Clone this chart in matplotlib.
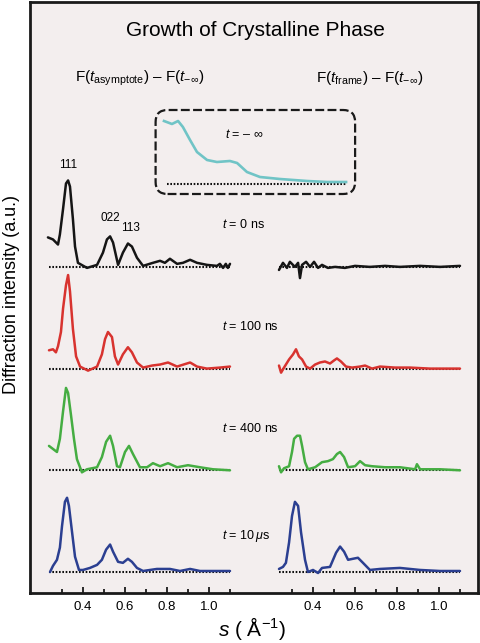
import matplotlib
matplotlib.use('Agg')
import matplotlib.pyplot as plt
from matplotlib.patches import FancyBboxPatch
import numpy as np

plt.rcParams['font.family'] = ['Liberation Sans', 'DejaVu Sans']
plt.rcParams['mathtext.fontset'] = 'custom'
plt.rcParams['mathtext.rm'] = 'Liberation Sans'
plt.rcParams['mathtext.it'] = 'Liberation Sans:italic'
plt.rcParams['mathtext.bf'] = 'Liberation Sans:bold'

# ---- data: s (1/A) and intensity (a.u.) ----
# left column: F(t_asymptote) - F(t_-inf)
s_L0 = [0.233, 0.257, 0.281, 0.290, 0.305, 0.319, 0.329, 0.338, 0.352, 0.362, 0.376, 0.419,
        0.467, 0.495, 0.514, 0.529, 0.543, 0.567, 0.590, 0.614, 0.633, 0.657, 0.686, 0.733,
        0.767, 0.790, 0.814, 0.848, 0.876, 0.910, 0.943, 0.990, 1.038, 1.052, 1.067, 1.080, 1.090, 1.100]
i_L0 = [29, 27, 22, 32, 57, 82, 85, 79, 47, 20, 4, -1,
        2, 14, 27, 30, 24, 2, 14, 23, 20, 9, 1, 4,
        6, 4, 8, 3, 4, 7, 4, 2, 1, 3, -1, 3, -1, 3]

s_L1 = [0.238, 0.257, 0.271, 0.281, 0.295, 0.305, 0.319, 0.329, 0.338, 0.352, 0.367, 0.386,
        0.424, 0.467, 0.490, 0.505, 0.519, 0.538, 0.552, 0.567, 0.590, 0.614, 0.633, 0.657,
        0.686, 0.729, 0.767, 0.805, 0.848, 0.910, 0.943, 0.990, 1.052, 1.100]
i_L1 = [18, 19, 16, 22, 36, 59, 82, 92, 76, 39, 12, 2,
        -2, 2, 14, 29, 36, 31, 12, 4, 14, 21, 16, 6,
        1, 3, 4, 6, 2, 6, 2, 0, 1, 2]

s_L2 = [0.238, 0.257, 0.276, 0.290, 0.305, 0.319, 0.329, 0.343, 0.357, 0.371, 0.395, 0.419,
        0.467, 0.490, 0.510, 0.529, 0.543, 0.562, 0.576, 0.600, 0.619, 0.638, 0.671, 0.705,
        0.733, 0.767, 0.805, 0.848, 0.900, 0.957, 1.019, 1.100]
i_L2 = [24, 21, 18, 31, 58, 81, 76, 54, 31, 11, -2, 1,
        3, 13, 28, 34, 24, 4, 3, 18, 24, 16, 3, 3,
        7, 4, 7, 3, 5, 3, 1, 0]

s_L3 = [0.243, 0.257, 0.276, 0.290, 0.300, 0.314, 0.324, 0.333, 0.348, 0.362, 0.381, 0.400,
        0.433, 0.467, 0.490, 0.510, 0.529, 0.543, 0.567, 0.590, 0.614, 0.633, 0.657, 0.686,
        0.752, 0.814, 0.862, 0.910, 0.957, 1.038, 1.100]
i_L3 = [0, 6, 12, 24, 45, 69, 73, 65, 39, 15, 2, 2,
        4, 7, 12, 22, 27, 20, 10, 9, 13, 10, 4, 1,
        3, 3, 1, 3, 1, 1, 1]

# right column: F(t_frame) - F(t_-inf)
s_R0 = [0.238, 0.257, 0.276, 0.290, 0.314, 0.329, 0.338, 0.348, 0.367, 0.386, 0.405, 0.424,
        0.443, 0.471, 0.505, 0.552, 0.600, 0.671, 0.743, 0.814, 0.910, 1.005, 1.100]
i_R0 = [-3, 4, -1, 5, 0, 4, -11, 2, 5, 0, 5, -1,
        2, -1, 0, -1, 1, 0, 1, 0, 1, 0, 1]

s_R1 = [0.238, 0.248, 0.262, 0.286, 0.305, 0.319, 0.333, 0.348, 0.367, 0.386, 0.410, 0.433,
        0.457, 0.481, 0.500, 0.514, 0.533, 0.557, 0.586, 0.624, 0.648, 0.681, 0.719, 0.790,
        0.862, 0.957, 1.100]
i_R1 = [3, -4, 1, 9, 14, 19, 12, 9, 2, 0, 4, 6,
        7, 5, 8, 10, 7, 2, 1, 2, 3, 0, 2, 1,
        1, 0, 0]

s_R2 = [0.238, 0.248, 0.262, 0.286, 0.300, 0.310, 0.324, 0.338, 0.348, 0.362, 0.376, 0.410,
        0.443, 0.471, 0.495, 0.514, 0.529, 0.548, 0.567, 0.600, 0.624, 0.648, 0.681, 0.743,
        0.814, 0.886, 0.895, 0.910, 1.005, 1.100]
i_R2 = [4, -2, 2, 4, 18, 31, 34, 34, 24, 8, 1, 3,
        8, 9, 11, 16, 18, 13, 3, 4, 9, 5, 4, 3,
        3, 1, 6, 1, 1, 0]

s_R3 = [0.238, 0.257, 0.271, 0.286, 0.300, 0.314, 0.329, 0.343, 0.362, 0.376, 0.400, 0.424,
        0.443, 0.481, 0.510, 0.529, 0.548, 0.567, 0.590, 0.614, 0.638, 0.671, 0.719, 0.814,
        0.910, 1.005, 1.100]
i_R3 = [3, 5, 9, 29, 55, 69, 65, 39, 12, 0, 2, -1,
        4, 5, 19, 25, 20, 12, 13, 14, 9, 2, 3, 4,
        2, 1, 1]

# inset: t = -inf
s_inf = [0.240, 0.278, 0.307, 0.330, 0.364, 0.397, 0.445, 0.492, 0.554, 0.588, 0.635, 0.697,
         0.792, 0.921, 1.016, 1.107]
i_inf = [63, 60, 63, 57, 44, 32, 24, 22, 23, 21, 12, 7,
         5, 3, 2, 2]

offsets = [300, 200, 100, 0]
colors = ['#151515', '#d8332f', '#45ad42', '#2b3f91']
time_labels = [r'$t$ = 0 ns', r'$t$ = 100 ns', r'$t$ = 400 ns', r'$t$ = 10$\,\mu$s']
left_curves = [(s_L0, i_L0), (s_L1, i_L1), (s_L2, i_L2), (s_L3, i_L3)]
right_curves = [(s_R0, i_R0), (s_R1, i_R1), (s_R2, i_R2), (s_R3, i_R3)]

W, H = 480, 643
def fx(x):
    return x / W
def fy(y):
    return 1 - y / H

bg = '#f3eeee'
fig = plt.figure(figsize=(4.8, 6.43), dpi=100)

# frame
ax_bg = fig.add_axes([fx(30), fy(593), fx(478) - fx(30), fy(2) - fy(593)])
ax_bg.set_facecolor(bg)
ax_bg.set_xticks([])
ax_bg.set_yticks([])
for sp in ax_bg.spines.values():
    sp.set_linewidth(2.0)
    sp.set_color('#1a1a1a')

ylo, yhi = -21 / 1.017, 570 / 1.017
dot = (0, (0.8, 0.8))

def setup_panel(ax):
    ax.set_xlim(0.2, 1.15)
    ax.set_ylim(ylo, yhi)
    ax.patch.set_alpha(0)
    for sp in ax.spines.values():
        sp.set_visible(False)
    ax.set_yticks([])
    ax.set_xticks([0.4, 0.6, 0.8, 1.0])
    ax.set_xticks([0.3, 0.5, 0.7, 0.9, 1.1], minor=True)
    ax.tick_params(axis='x', which='major', direction='in', length=4.5, width=1.3,
                   labelsize=9.5, pad=6, color='#1a1a1a')
    ax.tick_params(axis='x', which='minor', direction='in', length=3, width=1.3, color='#1a1a1a')

pw = fx(240.5) - fx(41)
axL = fig.add_axes([fx(41), fy(593), pw, fy(2) - fy(593)])
axR = fig.add_axes([fx(271), fy(593), pw, fy(2) - fy(593)])
for ax, curves in [(axL, left_curves), (axR, right_curves)]:
    setup_panel(ax)
    for (s, inten), off, c in zip(curves, offsets, colors):
        ax.plot([0.238, 1.1], [off, off], color='#111111', lw=1.5, ls=dot, zorder=2)
        ax.plot(s, np.array(inten) + off, color=c, lw=1.8, zorder=3,
                solid_joinstyle='round', solid_capstyle='round')

# peak labels on the top left curve
axL.text(0.329, 394, '111', ha='center', va='bottom', fontsize=8.5)
axL.text(0.529, 342, '022', ha='center', va='bottom', fontsize=8.5)
axL.text(0.624, 332, '113', ha='center', va='bottom', fontsize=8.5)

# time labels
for lab, yy in zip(time_labels, [225, 327, 428, 536]):
    fig.text(fx(222), fy(yy), lab, ha='left', va='center', fontsize=9)

# inset for t = -inf
ax_in = fig.add_axes([fx(155.6), fy(194), pw, fy(110) - fy(194)])
ax_in.set_xlim(0.2, 1.15)
ax_in.set_ylim(-10, 74)
ax_in.axis('off')
ax_in.plot([0.255, 1.107], [0, 0], color='#111111', lw=1.5, ls=dot)
ax_in.plot(s_inf, i_inf, color='#70c4c6', lw=1.9, solid_joinstyle='round')
asp = (pw * W) / ((fy(110) - fy(194)) * H)
box = FancyBboxPatch((0, 0), 1, 1, boxstyle='round,pad=0,rounding_size=0.06',
                     transform=ax_in.transAxes, mutation_aspect=asp, fill=False,
                     ls=(0, (4, 1.5)), lw=1.6, ec='#1a1a1a', clip_on=False)
ax_in.add_patch(box)
fig.text(fx(225), fy(135), r'$t$ = – ∞', ha='left', va='center', fontsize=9)

# titles
fig.text(fx(255), fy(36), 'Growth of Crystalline Phase', ha='center', va='baseline', fontsize=15)
fig.text(fx(140), fy(82), r'F($t_{\mathrm{asymptote}}$) – F($t_{-\infty}$)',
         ha='center', va='baseline', fontsize=11)
fig.text(fx(370), fy(82), r'F($t_{\mathrm{frame}}$) – F($t_{-\infty}$)',
         ha='center', va='baseline', fontsize=11)

# axis labels
fig.text(fx(12), fy(295), 'Diffraction intensity (a.u.)', rotation=90,
         ha='center', va='center', fontsize=13)
fig.text(fx(252), fy(629), r'$s$ ( Å$^{-1}$)', ha='center', va='center', fontsize=15)

fig.savefig('out.png', dpi=100, facecolor='white')
